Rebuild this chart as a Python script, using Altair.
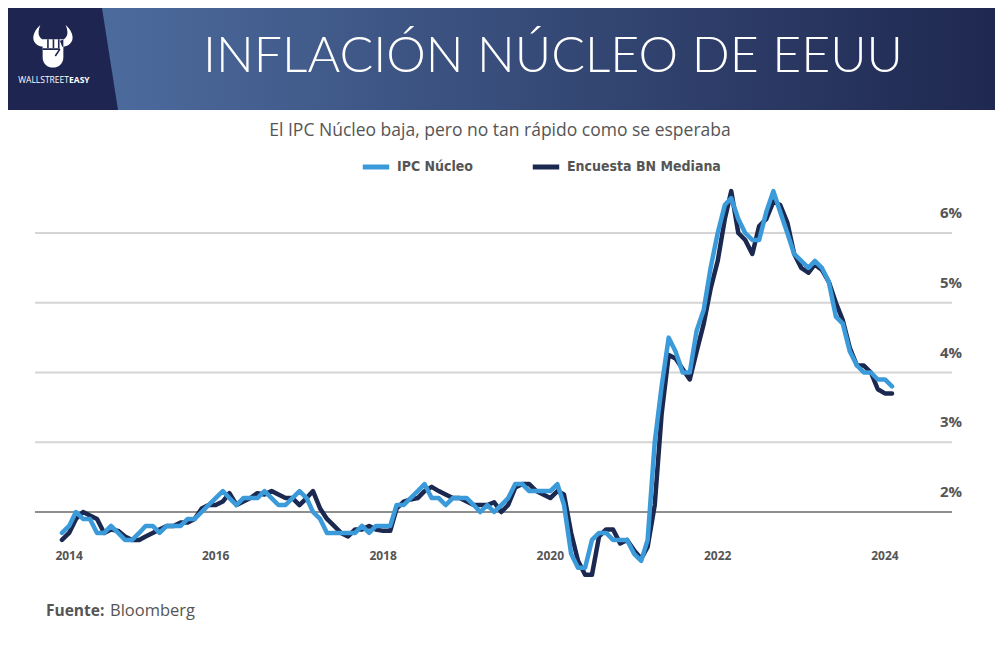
import altair as alt
import pandas as pd

# ---------------- data ----------------
fechas = pd.date_range("2014-03-01", "2024-02-01", freq="MS")

ipc_nucleo = [
    1.7, 1.8, 2.0, 1.9, 1.9, 1.7, 1.7, 1.8, 1.7, 1.6,                  # 2014 (mar-dic)
    1.6, 1.7, 1.8, 1.8, 1.7, 1.8, 1.8, 1.8, 1.9, 1.9, 2.0, 2.1,        # 2015
    2.2, 2.3, 2.2, 2.1, 2.2, 2.2, 2.2, 2.3, 2.2, 2.1, 2.1, 2.2,        # 2016
    2.3, 2.2, 2.0, 1.9, 1.7, 1.7, 1.7, 1.7, 1.7, 1.8, 1.7, 1.8,        # 2017
    1.8, 1.8, 2.1, 2.1, 2.2, 2.3, 2.4, 2.2, 2.2, 2.1, 2.2, 2.2,        # 2018
    2.2, 2.1, 2.0, 2.1, 2.0, 2.1, 2.2, 2.4, 2.4, 2.3, 2.3, 2.3,        # 2019
    2.3, 2.4, 2.1, 1.4, 1.2, 1.2, 1.6, 1.7, 1.7, 1.6, 1.6, 1.6,        # 2020
    1.4, 1.3, 1.6, 3.0, 3.8, 4.5, 4.3, 4.0, 4.0, 4.6, 4.9, 5.5,        # 2021
    6.0, 6.4, 6.5, 6.2, 6.0, 5.9, 5.9, 6.3, 6.6, 6.3, 6.0, 5.7,        # 2022
    5.6, 5.5, 5.6, 5.5, 5.3, 4.8, 4.7, 4.3, 4.1, 4.0, 4.0, 3.9,        # 2023
    3.9, 3.8,                                                          # 2024
]

encuesta_bn = [
    1.6, 1.7, 1.9, 2.0, 1.95, 1.9, 1.7, 1.75, 1.73, 1.65,              # 2014 (mar-dic)
    1.6, 1.6, 1.65, 1.7, 1.75, 1.8, 1.8, 1.85, 1.85, 1.9, 2.05, 2.1,   # 2015
    2.1, 2.15, 2.27, 2.1, 2.15, 2.2, 2.27, 2.25, 2.3, 2.25, 2.2, 2.2,  # 2016
    2.1, 2.2, 2.3, 2.05, 1.9, 1.8, 1.7, 1.65, 1.75, 1.75, 1.8, 1.75,   # 2017
    1.73, 1.73, 2.05, 2.15, 2.18, 2.2, 2.3, 2.36, 2.3, 2.25, 2.2, 2.2, # 2018
    2.15, 2.1, 2.1, 2.1, 2.14, 2.0, 2.1, 2.35, 2.4, 2.4, 2.3, 2.25,    # 2019
    2.2, 2.3, 2.25, 1.7, 1.3, 1.1, 1.1, 1.65, 1.75, 1.75, 1.55, 1.6,   # 2020
    1.45, 1.33, 1.5, 2.1, 3.4, 4.25, 4.2, 4.05, 3.9, 4.3, 4.7, 5.2,    # 2021
    5.6, 6.2, 6.6, 6.0, 5.9, 5.7, 6.1, 6.2, 6.45, 6.4, 6.15, 5.7,      # 2022
    5.5, 5.43, 5.55, 5.47, 5.3, 5.0, 4.75, 4.35, 4.1, 4.1, 4.0, 3.76,  # 2023
    3.7, 3.7,                                                          # 2024
]

series = ["IPC Núcleo", "Encuesta BN Mediana"]
colores = ["#3b9ad9", "#1b2850"]

y_ticks = [2, 3, 4, 5, 6]
y_labels = ["2%", "3%", "4%", "5%", "6%"]

x_tick_fechas = pd.to_datetime(["2014-04-01", "2016-01-01", "2018-01-01",
                                "2020-01-01", "2022-01-01", "2024-01-01"])
x_tick_labels = ["2014", "2016", "2018", "2020", "2022", "2024"]

titulo = "INFLACIÓN NÚCLEO DE EEUU"
subtitulo = "El IPC Núcleo baja, pero no tan rápido como se esperaba"
fuente_lbl = "Fuente:"
fuente_txt = "Bloomberg"

# ---------------- tables ----------------
df = pd.DataFrame({
    "fecha": list(fechas) * 2,
    "valor": ipc_nucleo + encuesta_bn,
    "serie": [series[0]] * len(fechas) + [series[1]] * len(fechas),
})
df_grid = pd.DataFrame({"v": y_ticks, "lab": y_labels})
df_x = pd.DataFrame({"fecha": x_tick_fechas, "lab": x_tick_labels})
one = pd.DataFrame({"k": [0]})

W, H = 987, 644
GRAY = "#555555"
COND = "'DejaVu Sans Condensed', 'Liberation Sans Narrow', 'Roboto Condensed', Roboto, sans-serif"

xscale = alt.Scale(domain=[alt.DateTime(year=2014, month=3, date=1),
                           alt.DateTime(year=2024, month=2, date=1)],
                   range=[54, 884])
yscale = alt.Scale(domain=[1, 7], range=[573.75, 155.25])
cscale = alt.Scale(domain=series, range=colores)

legend = alt.Legend(
    title=None, orient="none", legendX=352, legendY=143, direction="horizontal",
    symbolType="stroke", symbolSize=700, symbolStrokeWidth=5,
    labelFont=COND, labelFontSize=14, labelFontWeight="bold", labelLimit=400,
    labelColor=GRAY, columnPadding=48, labelOffset=5,
)

# ---------------- header ----------------
grad = alt.Gradient(
    gradient="linear",
    stops=[alt.GradientStop(color="#4c6b9d", offset=0.1),
           alt.GradientStop(color="#1f2850", offset=1)],
    x1=0, x2=1, y1=0, y2=0,
)
header = alt.Chart(one).mark_rect(color=grad).encode(
    x=alt.value(0), x2=alt.value(W), y=alt.value(0), y2=alt.value(102))

logo_panel = alt.Chart(one).mark_point(
    shape="M-1,-1L0.843,-1L1.157,1L-1,1Z", filled=True, opacity=1,
    color="#1e2550", strokeWidth=0, size=102 * 102,
).encode(x=alt.value(51), y=alt.value(51))

icon = alt.Chart(one).mark_point(
    shape=("M-0.4,-0.05C-0.95,-0.1 -1.0,-0.6 -0.55,-1C-0.72,-0.6 -0.6,-0.38 -0.3,-0.32Z"
           "M0.4,-0.05C0.95,-0.1 1.0,-0.6 0.55,-1C0.72,-0.6 0.6,-0.38 0.3,-0.32Z"
           "M-0.45,-0.38L0.45,-0.38L0.45,0.4C0.45,1.0 -0.45,1.0 -0.45,0.4Z"),
    filled=True, opacity=1, color="white", strokeWidth=0, size=46 * 46,
).encode(x=alt.value(45), y=alt.value(40))

icon_lines = alt.Chart(one).mark_point(
    shape=("M-0.22,-0.38L-0.22,0M0.02,-0.38L0.02,0M0.25,-0.38L0.25,0"
           "M-0.45,0.05L0.3,0.05M0.3,0.05L0.1,0.35"),
    filled=False, opacity=1, color="#1e2550", strokeWidth=1.6, size=46 * 46,
).encode(x=alt.value(45), y=alt.value(40))

logo_t1 = alt.Chart(one).mark_text(
    text="WALLSTREET", align="right", baseline="middle", font="Open Sans",
    fontSize=8.5, color="white").encode(x=alt.value(61), y=alt.value(72))
logo_t2 = alt.Chart(one).mark_text(
    text="EASY", align="left", baseline="middle", font="Open Sans",
    fontSize=8.5, fontWeight="bold", color="white").encode(x=alt.value(61), y=alt.value(72))

title = alt.Chart(one).mark_text(
    text=titulo, align="center", baseline="alphabetic", font="Lato",
    fontWeight=300, fontSize=50, color="white",
).encode(x=alt.value(545), y=alt.value(64))

subtitle = alt.Chart(one).mark_text(
    text=subtitulo, align="center", baseline="middle", font="Open Sans",
    fontSize=17.5, color=GRAY,
).encode(x=alt.value(492), y=alt.value(123))

# ---------------- grid & axes ----------------
grid = alt.Chart(df_grid).mark_rule(strokeWidth=2).encode(
    y=alt.Y("v:Q", scale=yscale, axis=None),
    x=alt.value(27), x2=alt.value(944),
    color=alt.condition(alt.datum.v == 2, alt.value("#8e8e8e"), alt.value("#d5d5d5")),
)
ylab = alt.Chart(df_grid).mark_text(
    align="right", baseline="middle", dy=-20, font="Open Sans", fontWeight="bold",
    fontSize=15, color=GRAY,
).encode(y=alt.Y("v:Q", scale=yscale, axis=None), x=alt.value(954), text="lab:N")

xlab = alt.Chart(df_x).mark_text(
    align="center", baseline="middle", font="Open Sans", fontWeight="bold",
    fontSize=12, color=GRAY,
).encode(x=alt.X("fecha:T", scale=xscale, axis=None), y=alt.value(548), text="lab:N")

# ---------------- lines ----------------
def line(name):
    return alt.Chart(df).transform_filter(alt.datum.serie == name).mark_line(
        strokeWidth=4.5, strokeCap="round", strokeJoin="round",
    ).encode(
        x=alt.X("fecha:T", scale=xscale, axis=None),
        y=alt.Y("valor:Q", scale=yscale, axis=None),
        color=alt.Color("serie:N", scale=cscale, legend=legend),
    )

footer1 = alt.Chart(one).mark_text(
    text=fuente_lbl, align="left", baseline="middle", font="Open Sans",
    fontWeight="bold", fontSize=15.5, color=GRAY).encode(x=alt.value(38), y=alt.value(603))
footer2 = alt.Chart(one).mark_text(
    text=fuente_txt, align="left", baseline="middle", font="Open Sans",
    fontSize=16.5, color=GRAY).encode(x=alt.value(102), y=alt.value(603))

chart = alt.layer(
    header, logo_panel, icon, icon_lines, logo_t1, logo_t2, title, subtitle,
    grid, ylab, xlab, line(series[1]), line(series[0]), footer1, footer2,
).properties(
    width=W, height=H, padding=0, autosize="none", background="white",
).configure_view(stroke=None)

chart.save("out.html", embed_options={"renderer": "svg", "actions": False})
